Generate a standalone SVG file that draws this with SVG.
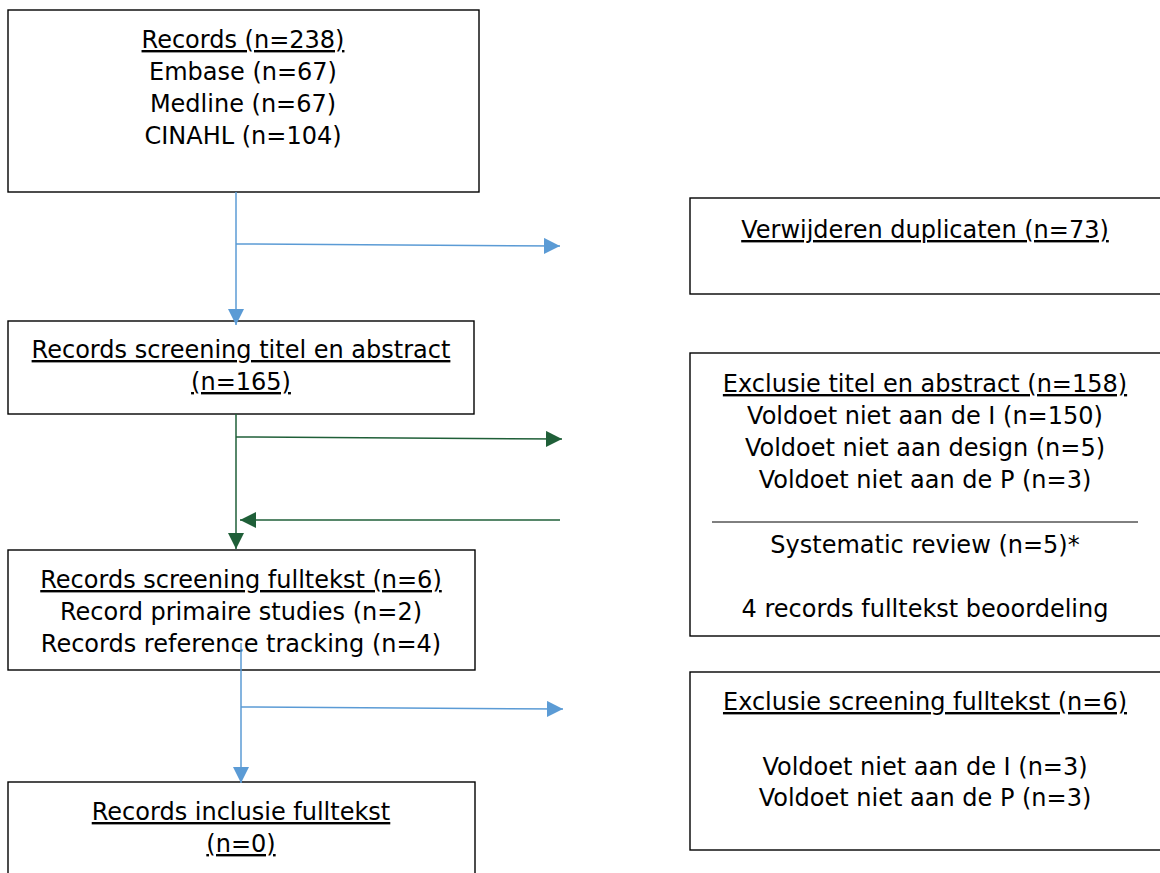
<svg xmlns="http://www.w3.org/2000/svg" width="1160" height="873" viewBox="0 0 1160 873">
<style>
.box{fill:#fff;stroke:#000;stroke-width:1.4}
text{font-family:"DejaVu Sans",Verdana,sans-serif;font-size:24px;fill:#000;text-anchor:middle}
.u{text-decoration:underline}
.blue{stroke:#5b9bd5;stroke-width:1.5;fill:none}
.green{stroke:#1f5f38;stroke-width:1.5;fill:none}
</style>
<defs>
<marker id="ab" markerUnits="userSpaceOnUse" markerWidth="18" markerHeight="16" refX="16" refY="8" orient="auto"><path d="M0,0 L16,8 L0,16 Z" fill="#5b9bd5"/></marker>
<marker id="ag" markerUnits="userSpaceOnUse" markerWidth="18" markerHeight="16" refX="16" refY="8" orient="auto"><path d="M0,0 L16,8 L0,16 Z" fill="#1f5f38"/></marker>
</defs>
<g id="records">
<rect class="box" x="8" y="10" width="471" height="182"/>
<text x="243" y="48" class="u">Records (n=238)</text>
<text x="243" y="80">Embase (n=67)</text>
<text x="243" y="112">Medline (n=67)</text>
<text x="243" y="144">CINAHL (n=104)</text>
</g>
<g id="duplicaten">
<rect class="box" x="690" y="198" width="480" height="96"/>
<text x="925" y="238" class="u">Verwijderen duplicaten (n=73)</text>
</g>
<g id="screening-titel">
<rect class="box" x="8" y="321" width="466" height="93"/>
<text x="241" y="358" class="u">Records screening titel en abstract</text>
<text x="241" y="390" class="u">(n=165)</text>
</g>
<g id="exclusie-titel">
<rect class="box" x="690" y="353" width="480" height="283"/>
<text x="925" y="392" class="u">Exclusie titel en abstract (n=158)</text>
<text x="925" y="424">Voldoet niet aan de I (n=150)</text>
<text x="925" y="456">Voldoet niet aan design (n=5)</text>
<text x="925" y="488">Voldoet niet aan de P (n=3)</text>
<line x1="712" y1="522" x2="1138" y2="522" stroke="#000" stroke-width="1"/>
<text x="925" y="553">Systematic review (n=5)*</text>
<text x="925" y="617">4 records fulltekst beoordeling</text>
</g>
<g id="screening-fulltekst">
<rect class="box" x="8" y="550" width="467" height="120"/>
<text x="241" y="588" class="u">Records screening fulltekst (n=6)</text>
<text x="241" y="620">Record primaire studies (n=2)</text>
<text x="241" y="652">Records reference tracking (n=4)</text>
</g>
<g id="exclusie-fulltekst">
<rect class="box" x="690" y="672" width="480" height="178"/>
<text x="925" y="710" class="u">Exclusie screening fulltekst (n=6)</text>
<text x="925" y="775">Voldoet niet aan de I (n=3)</text>
<text x="925" y="806">Voldoet niet aan de P (n=3)</text>
</g>
<g id="inclusie">
<rect class="box" x="8" y="782" width="467" height="100"/>
<text x="241" y="820" class="u">Records inclusie fulltekst</text>
<text x="241" y="852" class="u">(n=0)</text>
</g>
<g id="connectors">
<path class="blue" d="M236,192 V325" marker-end="url(#ab)"/>
<path class="blue" d="M236,244 L560,246" marker-end="url(#ab)"/>
<path class="green" d="M236,414 V549" marker-end="url(#ag)"/>
<path class="green" d="M236,437 L562,439" marker-end="url(#ag)"/>
<path class="green" d="M560,520 L240,520" marker-end="url(#ag)"/>
<path class="blue" d="M241,643 V783" marker-end="url(#ab)"/>
<path class="blue" d="M241,707 L563,709" marker-end="url(#ab)"/>
</g>
</svg>
